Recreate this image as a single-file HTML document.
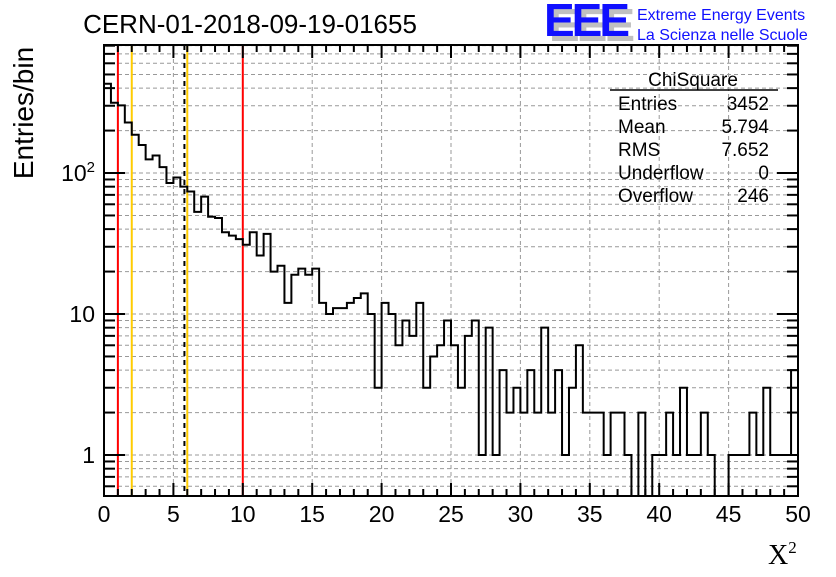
<!DOCTYPE html>
<html><head><meta charset="utf-8"><style>
body{margin:0;background:#fff;}
svg text{font-family:"Liberation Sans",sans-serif;}
</style></head><body>
<svg id="chart" width="836" height="572" xmlns="http://www.w3.org/2000/svg">
<rect x="0" y="0" width="836" height="572" fill="#fff"/>
<g id="grid"></g>
<g id="vlines"></g>
<path id="hist" fill="none" stroke="#000" stroke-width="2"/>
<g id="axes"></g>
<text x="250" y="33" font-size="26" text-anchor="middle">CERN-01-2018-09-19-01655</text>
<text transform="translate(33,113) rotate(-90)" font-size="28" text-anchor="middle">Entries/bin</text>
<text x="768" y="564" font-size="28" style="font-family:'Liberation Serif',serif">X<tspan font-size="17" dy="-11">2</tspan></text>
<g>
<text x="549" y="41" font-size="46" font-weight="bold" fill="#c0c0c0" letter-spacing="-3">EEE</text>
<text x="544" y="36" font-size="46" font-weight="bold" fill="#1010ff" letter-spacing="-3">EEE</text>
<text x="637" y="20" font-size="16" fill="#1010ff">Extreme Energy Events</text>
<text x="637" y="40" font-size="16" fill="#1010ff">La Scienza nelle Scuole</text>
</g>
<g font-size="19">
<text x="693" y="86" text-anchor="middle">ChiSquare</text>
<line x1="610" y1="90" x2="778" y2="90" stroke="#000" stroke-width="1.5"/>
<text x="618" y="110">Entries</text><text x="769" y="110" text-anchor="end">3452</text>
<text x="618" y="133">Mean</text><text x="769" y="133" text-anchor="end">5.794</text>
<text x="618" y="156">RMS</text><text x="769" y="156" text-anchor="end">7.652</text>
<text x="618" y="179">Underflow</text><text x="769" y="179" text-anchor="end">0</text>
<text x="618" y="202">Overflow</text><text x="769" y="202" text-anchor="end">246</text>
</g>
</svg>
<script>
const binWidth = 0.5;
const counts = [430,315,302,228,187,158,125,133,110,85,93,80,74,53,68,49,48,38,36,34,
31,38,26,37,20,22,12,19,21,19,21,12,10,11,11,12,13,14,10,3,
12,10,6,9,7,12,3,5,6,9,6,3,7,9,1,8,1,4,2,3,
2,4,2,8,2,4,1,3,6,2,2,2,1,2,2,1,0,2,0,1,
1,2,1,3,1,1,2,1,0,0,1,1,1,2,1,3,1,1,1,4];
const xTicks = [0,5,10,15,20,25,30,35,40,45,50];
const yMajor = [1,10,100];
const yLabels = ["1","10","10²"];
const cutLines = [1,2,5.794,6,10];
const cutColors = ["#ff0000","#ffcc00","#000","#ffcc00","#ff0000"];

const X0=104,X1=798,Y0=45,Y1=496,xmin=0,xmax=50,ymin=0.512,ymax=809;
const sx=v=>X0+(v-xmin)/(xmax-xmin)*(X1-X0);
const sy=v=>Y1-(Math.log10(v)-Math.log10(ymin))/(Math.log10(ymax)-Math.log10(ymin))*(Y1-Y0);
const NS="http://www.w3.org/2000/svg";
function mk(tag,attrs,parent){const e=document.createElementNS(NS,tag);for(const k in attrs)e.setAttribute(k,attrs[k]);parent.appendChild(e);return e;}
const grid=document.getElementById('grid'),axes=document.getElementById('axes'),vl=document.getElementById('vlines');
xTicks.forEach(t=>{if(t>xmin&&t<xmax){const l=mk('line',{x1:sx(t),x2:sx(t),y1:Y0,y2:Y1,stroke:'#999','stroke-dasharray':'4,3'},grid);

}});
const yMinor=[];
[0.1,1,10,100].forEach(d=>{for(let m=1;m<10;m++){const v=d*m;if(v>=ymin&&v<=ymax)yMinor.push(v);}});
yMinor.forEach(v=>{const l=mk('line',{x1:X0,x2:X1,y1:sy(v),y2:sy(v),stroke:'#999','stroke-dasharray':'4,3'},grid);

});
const floorY=Y1;
let d='M'+sx(0)+','+floorY;
counts.forEach((c,i)=>{const y=c>0?sy(c):floorY;d+=' L'+sx(i*binWidth)+','+y+' L'+sx((i+1)*binWidth)+','+y;});
d+=' L'+sx(counts.length*binWidth)+','+floorY;
document.getElementById('hist').setAttribute('d',d);
cutLines.forEach((v,i)=>{const l=mk('line',{x1:sx(v),x2:sx(v),y1:Y0,y2:Y1,stroke:cutColors[i],'stroke-width':2},vl);
if(i===2)l.setAttribute('stroke-dasharray','5,4');

});
mk('rect',{x:X0,y:Y0,width:X1-X0,height:Y1-Y0,fill:'none',stroke:'#000','stroke-width':2},axes);
for(let t=xmin;t<=xmax;t+=1){const major=t%5===0,len=major?13:7;
mk('line',{x1:sx(t),x2:sx(t),y1:Y1,y2:Y1-len,stroke:'#000','stroke-width':2},axes);
mk('line',{x1:sx(t),x2:sx(t),y1:Y0,y2:Y0+len,stroke:'#000','stroke-width':2},axes);}
xTicks.forEach(t=>{const tx=mk('text',{x:sx(t),y:522,'font-size':23,'text-anchor':'middle'},axes);tx.textContent=String(t);

});
yMinor.forEach(v=>{const major=yMajor.includes(v),len=major?21:11;
mk('line',{x1:X0,x2:X0+len,y1:sy(v),y2:sy(v),stroke:'#000','stroke-width':2},axes);
mk('line',{x1:X1,x2:X1-len,y1:sy(v),y2:sy(v),stroke:'#000','stroke-width':2},axes);});
yMajor.forEach((v,i)=>{const tx=mk('text',{x:95,y:sy(v)+8,'font-size':23,'text-anchor':'end'},axes);
if(i===2){tx.innerHTML='10<tspan font-size="15" dy="-9">2</tspan>';}else tx.textContent=yLabels[i];

});
</script>
</body></html>
